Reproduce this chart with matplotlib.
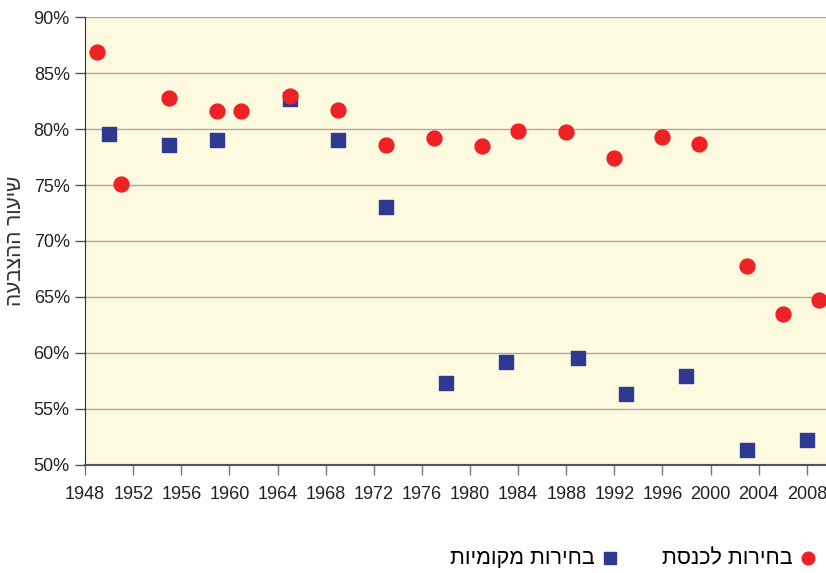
import matplotlib
matplotlib.use("Agg")
import matplotlib.pyplot as plt
from matplotlib.ticker import FuncFormatter

plt.rcParams['font.family'] = ['Liberation Sans', 'DejaVu Sans']

# Knesset elections turnout (%)
knesset_years = [1949, 1951, 1955, 1959, 1961, 1965, 1969, 1973, 1977, 1981,
                 1984, 1988, 1992, 1996, 1999, 2003, 2006, 2009]
knesset_turnout = [86.9, 75.1, 82.8, 81.6, 81.6, 83.0, 81.7, 78.6, 79.2, 78.5,
                   79.8, 79.7, 77.4, 79.3, 78.7, 67.8, 63.5, 64.7]

# local elections turnout (%)
local_years = [1950, 1955, 1959, 1965, 1969, 1973, 1978, 1983, 1989, 1993,
               1998, 2003, 2008]
local_turnout = [79.6, 78.6, 79.0, 82.7, 79.0, 73.0, 57.3, 59.2, 59.5, 56.3,
                 57.9, 51.3, 52.2]

x_ticks = list(range(1948, 2009, 4))
y_ticks = [50, 55, 60, 65, 70, 75, 80, 85, 90]

label_knesset = "בחירות לכנסת"
label_local = "בחירות מקומיות"
y_title = "שיעור ההצבעה"


def rtl(s):
    # matplotlib has no bidi support, so flip Hebrew for display
    return s[::-1]


fig = plt.figure(figsize=(8.26, 5.73), dpi=100)
ax = fig.add_axes([0.103, 0.189, 0.897, 0.781])
ax.set_facecolor('#fefae0')

ax.scatter(local_years, local_turnout, marker='s', s=110, color='#2e3a92',
           zorder=3, label=rtl(label_local))
ax.scatter(knesset_years, knesset_turnout, marker='o', s=115, color='#ee2226',
           zorder=3, label=rtl(label_knesset))

ax.set_xlim(1948, 2009.6)
ax.set_ylim(50, 90)
ax.set_xticks(x_ticks)
ax.set_yticks(y_ticks)
ax.yaxis.set_major_formatter(FuncFormatter(lambda v, p: f"{v:.0f}%"))

ax.grid(axis='y', color='#a8a8a8', linewidth=1.0)
ax.set_axisbelow(True)
for side in ['top', 'right']:
    ax.spines[side].set_visible(False)
ax.spines['left'].set_color('#333333')
ax.spines['bottom'].set_color('#555555')
ax.spines['bottom'].set_linewidth(1.5)
ax.tick_params(axis='y', length=7, width=1, color='#555555', labelsize=13,
               pad=4, labelcolor='#222222')
ax.tick_params(axis='x', length=7, width=1, color='#777777', labelsize=13,
               pad=8, labelcolor='#222222')

ax.set_ylabel(rtl(y_title), fontsize=15, color='#333333', labelpad=6)

handles, labels = ax.get_legend_handles_labels()
fig.legend(handles, labels, loc='lower right', bbox_to_anchor=(1.003, -0.012),
           ncol=2, markerfirst=False, frameon=False, fontsize=15.5,
           columnspacing=2.0, handletextpad=0.25, scatterpoints=1,
           markerscale=0.85, borderaxespad=0.1, handlelength=0.9)

fig.savefig('out.png', dpi=100)
